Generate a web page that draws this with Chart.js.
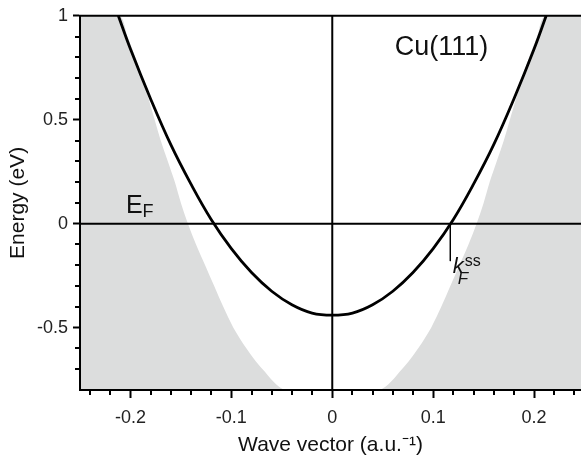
<!DOCTYPE html>
<html>
<head>
<meta charset="utf-8">
<script src="https://cdn.jsdelivr.net/npm/chart.js@4.4.1/dist/chart.umd.min.js"></script>
<style>
  body { margin: 0; background: #fff; }
  #wrap { width: 581px; height: 461px; }
</style>
</head>
<body>
<div id="wrap"><canvas id="chart"></canvas></div>
<script>
// surface state dispersion (k in a.u.^-1, E in eV)
var surfK = [-0.212, -0.2, -0.18, -0.16, -0.14, -0.12, -0.1, -0.08, -0.06, -0.04, -0.02, 0,
             0.02, 0.04, 0.06, 0.08, 0.1, 0.12, 0.14, 0.16, 0.18, 0.2, 0.212];
var surfE = [1.0, 0.84, 0.6, 0.38, 0.19, 0.02, -0.12, -0.235, -0.325, -0.39, -0.43, -0.44,
             -0.43, -0.39, -0.325, -0.235, -0.12, 0.02, 0.19, 0.38, 0.6, 0.84, 1.0];

// edge of the projected bulk bands (right half, mirrored on the left)
var gapE = [-0.8, -0.7, -0.6, -0.5, -0.4, -0.3, -0.2, -0.1, 0, 0.1, 0.2, 0.3, 0.4, 0.5, 0.6, 0.7, 0.8, 0.9, 1.0];
var gapK = [0.046, 0.069, 0.085, 0.098, 0.108, 0.117, 0.126, 0.135, 0.143, 0.150, 0.156, 0.163, 0.170, 0.176, 0.182, 0.188, 0.195, 0.203, 0.211];

var kF = 0.117;
var xMin = -0.25, xMax = 0.2465, yMin = -0.8, yMax = 1;

var xTicks = [-0.2, -0.1, 0, 0.1, 0.2];
var xMinor = [-0.24, -0.22, -0.18, -0.16, -0.14, -0.12, -0.08, -0.06, -0.04, -0.02,
              0.02, 0.04, 0.06, 0.08, 0.12, 0.14, 0.16, 0.18, 0.22, 0.24];
var yTicks = [-0.5, 0, 0.5, 1];
var yMinor = [-0.7, -0.6, -0.4, -0.3, -0.2, -0.1, 0.1, 0.2, 0.3, 0.4, 0.6, 0.7, 0.8, 0.9];

var FONT = 'Liberation Sans, Arial, Helvetica, sans-serif';

// points for the lines
var surfData = surfK.map(function (k, i) { return { x: k, y: surfE[i] }; });

var gapData = [{ x: xMin, y: yMax }];
for (var i = gapE.length - 1; i >= 0; i--) gapData.push({ x: -gapK[i], y: gapE[i] });
for (var j = 0; j < gapE.length; j++) gapData.push({ x: gapK[j], y: gapE[j] });
gapData.push({ x: xMax, y: yMax });

// petit plugin pour les ticks mineurs, le cadre et les textes
var extras = {
    id: 'extras',
    afterDraw: function (chart) {
        var c = chart.ctx, xs = chart.scales.x, ys = chart.scales.y, a = chart.chartArea;
        c.save();
        c.strokeStyle = '#000';
        c.lineWidth = 2;
        c.beginPath();
        xMinor.forEach(function (v) {
            var px = Math.round(xs.getPixelForValue(v));
            c.moveTo(px, a.bottom); c.lineTo(px, a.bottom + 5);
        });
        yMinor.forEach(function (v) {
            var py = Math.round(ys.getPixelForValue(v));
            c.moveTo(a.left, py); c.lineTo(a.left - 5, py);
        });
        // cadre : haut, gauche, bas (le gris recouvre les bordures des axes)
        c.moveTo(a.left, a.top); c.lineTo(a.right, a.top);
        c.moveTo(a.left, a.top - 1); c.lineTo(a.left, a.bottom + 1);
        c.moveTo(a.left - 1, a.bottom); c.lineTo(a.right, a.bottom);
        c.stroke();

        c.fillStyle = '#111';
        c.textBaseline = 'alphabetic';
        c.textAlign = 'left';
        // Cu(111)
        c.font = '27px ' + FONT;
        c.fillText('Cu(111)', xs.getPixelForValue(0.062), ys.getPixelForValue(0.813));
        // E_F
        var ex = xs.getPixelForValue(-0.2045), ey = ys.getPixelForValue(0.052);
        c.font = '25px ' + FONT;
        c.fillText('E', ex, ey);
        var w = c.measureText('E').width;
        c.font = '18px ' + FONT;
        c.fillText('F', ex + w, ey + 4);
        // k_F^ss
        var kx = xs.getPixelForValue(0.1195), ky = ys.getPixelForValue(-0.235);
        c.font = 'italic 22px ' + FONT;
        c.fillText('k', kx, ky);
        c.font = 'italic 17px ' + FONT;
        c.fillText('F', kx + 5, ky + 11);
        c.font = '16px ' + FONT;
        c.fillText('ss', kx + 12, ky - 7);
        c.restore();
    }
};

var ctx = document.getElementById('chart');

var myChart = new Chart(ctx, {
    type: 'scatter',
    data: {
        datasets: [{
            // état de surface
            data: surfData,
            showLine: true,
            borderColor: '#000',
            borderWidth: 2.8,
            pointRadius: 0,
            tension: 0.4,
            order: 0
        }, {
            // niveau de Fermi
            data: [{ x: xMin, y: 0 }, { x: xMax, y: 0 }],
            showLine: true,
            borderColor: '#000',
            borderWidth: 2,
            pointRadius: 0,
            order: 1
        }, {
            // k = 0
            data: [{ x: 0, y: yMin }, { x: 0, y: yMax }],
            showLine: true,
            borderColor: '#000',
            borderWidth: 2,
            pointRadius: 0,
            order: 1
        }, {
            // repère k_F
            data: [{ x: kF, y: 0 }, { x: kF, y: -0.18 }],
            showLine: true,
            borderColor: '#000',
            borderWidth: 1,
            pointRadius: 0,
            order: 1
        }, {
            // bandes de volume projetées
            data: gapData,
            showLine: true,
            borderWidth: 0,
            borderColor: 'rgba(0,0,0,0)',
            backgroundColor: '#dcdddd',
            fill: 'start',
            pointRadius: 0,
            tension: 0.3,
            order: 5
        }]
    },
    options: {
        responsive: true,
        maintainAspectRatio: false,
        animation: false,
        devicePixelRatio: 1,
        layout: { padding: { top: 14, right: 0, bottom: 0, left: 0 } },
        plugins: {
            legend: { display: false },
            tooltip: { enabled: false }
        },
        scales: {
            x: {
                type: 'linear',
                min: xMin,
                max: xMax,
                afterBuildTicks: function (scale) {
                    scale.ticks = xTicks.map(function (v) { return { value: v }; });
                },
                afterFit: function (scale) { scale.height = 71; },
                border: { display: true, color: '#000', width: 2 },
                grid: { drawOnChartArea: false, tickLength: 8, tickWidth: 2, tickColor: '#000' },
                ticks: {
                    color: '#222',
                    padding: 9,
                    maxRotation: 0,
                    font: { family: FONT, size: 18 },
                    callback: function (v) { return String(v); }
                },
                title: {
                    display: true,
                    text: 'Wave vector (a.u.⁻¹)',
                    color: '#111',
                    font: { family: FONT, size: 21 },
                    padding: { top: 0, bottom: 3 }
                }
            },
            y: {
                type: 'linear',
                min: yMin,
                max: yMax,
                afterBuildTicks: function (scale) {
                    scale.ticks = yTicks.map(function (v) { return { value: v }; });
                },
                afterFit: function (scale) { scale.width = 80; },
                border: { display: true, color: '#000', width: 2 },
                grid: { drawOnChartArea: false, tickLength: 7, tickWidth: 2, tickColor: '#000' },
                ticks: {
                    color: '#222',
                    padding: 5,
                    font: { family: FONT, size: 18 },
                    callback: function (v) { return String(v); }
                },
                title: {
                    display: true,
                    text: 'Energy (eV)',
                    color: '#111',
                    font: { family: FONT, size: 21 },
                    padding: { top: 6, bottom: 0 }
                }
            }
        }
    },
    plugins: [extras]
});
</script>
</body>
</html>
